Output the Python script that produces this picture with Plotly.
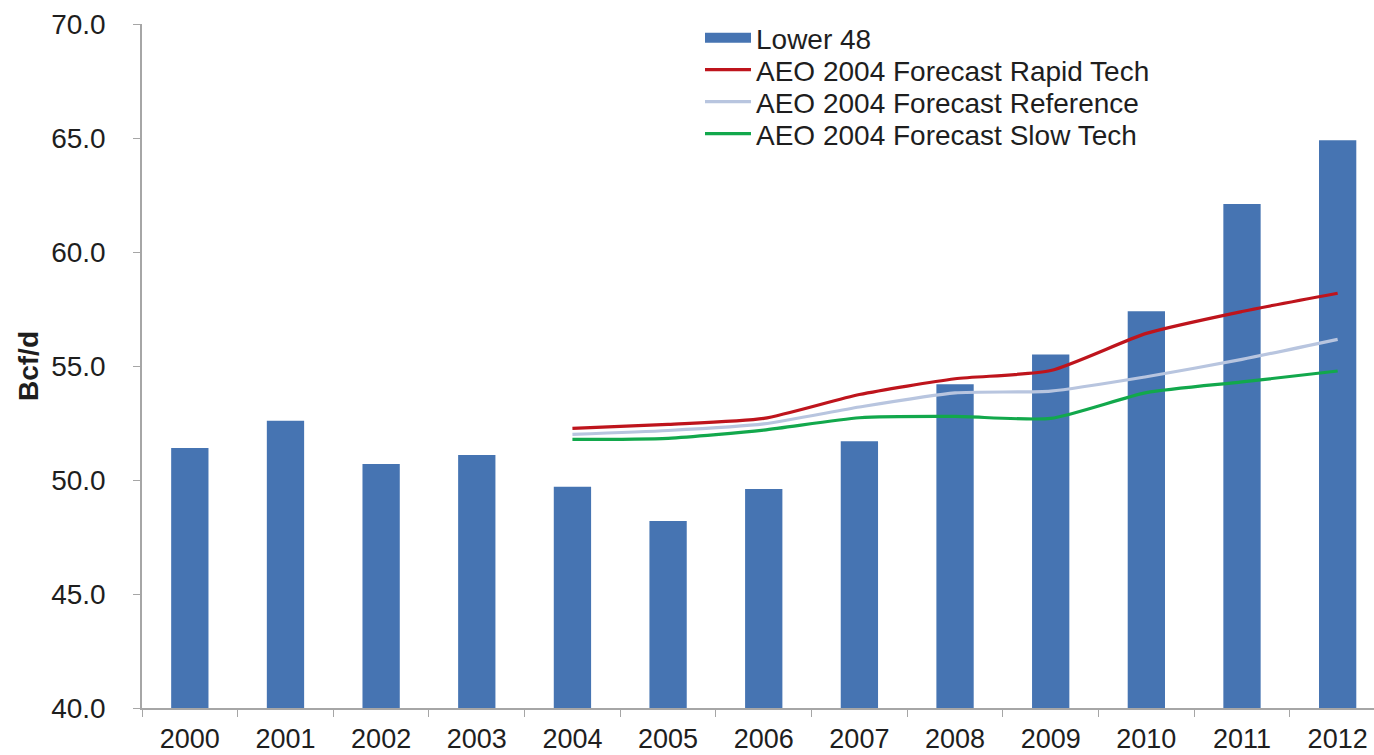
import plotly.graph_objects as go

# Lower 48 natural gas production vs. AEO 2004 forecasts (Bcf/d)
years = ["2000", "2001", "2002", "2003", "2004", "2005", "2006",
         "2007", "2008", "2009", "2010", "2011", "2012"]
lower48 = [51.4, 52.6, 50.7, 51.1, 49.7, 48.2, 49.6,
           51.7, 54.2, 55.5, 57.4, 62.1, 64.9]

forecast_years = ["2004", "2005", "2006", "2007", "2008",
                  "2009", "2010", "2011", "2012"]
rapid_tech = [52.26, 52.44, 52.70, 53.75, 54.44, 54.80, 56.43, 57.39, 58.19]
reference = [52.00, 52.17, 52.46, 53.20, 53.82, 53.90, 54.53, 55.29, 56.17]
slow_tech = [51.78, 51.83, 52.19, 52.73, 52.79, 52.70, 53.83, 54.30, 54.78]

BAR = "#4674B2"
RED = "#BE141C"
GREY = "#B8C5DF"
GREEN = "#12A84C"
TEXT = "#1E1E1E"
FONT = "Liberation Sans, Arial, sans-serif"

W, H = 1374, 755
ML, MR, MT, MB = 142, 0, 24, 47
PW, PH = W - ML - MR, H - MT - MB

fig = go.Figure()

fig.add_trace(go.Bar(
    x=years, y=lower48, marker=dict(color=BAR, line=dict(width=0)),
    width=0.39, showlegend=False, name="Lower 48",
))

# legend swatch for the bar series (wide block like the line keys)
fig.add_trace(go.Scatter(
    x=[None], y=[None], mode="lines", name="Lower 48",
    line=dict(color=BAR, width=12), legend="legend",
))

series = [
    ("AEO 2004 Forecast Rapid Tech", rapid_tech, RED, "legend2"),
    ("AEO 2004 Forecast Reference", reference, GREY, "legend3"),
    ("AEO 2004 Forecast Slow Tech", slow_tech, GREEN, "legend4"),
]
for name, vals, col, lg in series:
    fig.add_trace(go.Scatter(
        x=forecast_years, y=vals, mode="lines", name=name,
        line=dict(color=col, width=3.2, shape="spline", smoothing=0.6),
        legend=lg,
    ))

# one legend per row so the rows sit at fixed pixel heights
row_y = [38, 70, 102, 134]
legend_common = dict(
    xref="paper", yref="paper", xanchor="left", yanchor="middle",
    bgcolor="rgba(0,0,0,0)", borderwidth=0, itemwidth=46,
    font=dict(family=FONT, size=28, color=TEXT),
)
layout_legends = {}
for i, key in enumerate(["legend", "legend2", "legend3", "legend4"]):
    layout_legends[key] = dict(
        x=(700 - ML) / PW, y=(H - MB - row_y[i]) / PH, **legend_common)

fig.update_layout(
    width=W, height=H,
    margin=dict(l=ML, r=MR, t=MT, b=MB, autoexpand=False),
    paper_bgcolor="white", plot_bgcolor="white",
    font=dict(family=FONT, color=TEXT),
    bargap=0.61,
    **layout_legends,
)

fig.update_xaxes(
    type="category", range=[-0.5, 12.38], automargin=False, tickangle=0,
    showline=True, linecolor="#A6A6A6", linewidth=1.5,
    ticks="outside", tickson="boundaries", ticklen=7, tickcolor="#A6A6A6",
    tickfont=dict(family=FONT, size=27, color=TEXT),
    ticklabelstandoff=6,
    showgrid=False, zeroline=False,
)
fig.update_yaxes(
    range=[40, 70], dtick=5, tick0=40, tickformat=".1f", automargin=False,
    showline=True, linecolor="#A6A6A6", linewidth=1.5,
    ticks="outside", ticklen=7, tickcolor="#A6A6A6",
    tickfont=dict(family=FONT, size=28, color=TEXT),
    ticklabelstandoff=22,
    showgrid=False, zeroline=False,
    title=dict(text="<b>Bcf/d</b>", font=dict(family=FONT, size=28, color=TEXT),
               standoff=4),
)

fig.write_html("out.html")
